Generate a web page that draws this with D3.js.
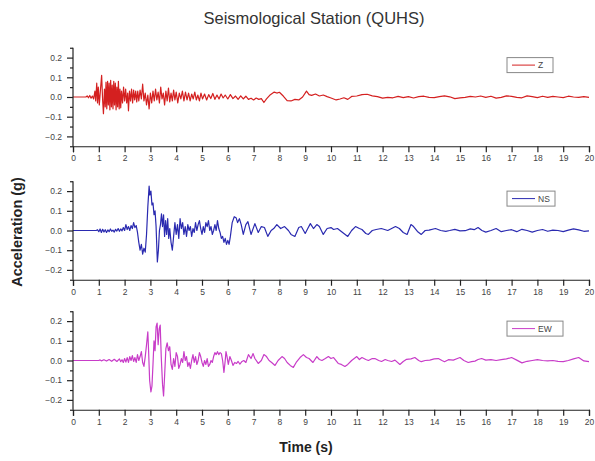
<!DOCTYPE html>
<html>
<head>
<meta charset="utf-8">
<script src="https://cdn.jsdelivr.net/npm/d3@7"></script>
<style>
  html, body { margin: 0; padding: 0; background: #fff; }
  svg { display: block; }
</style>
</head>
<body>
<script>
// ---------- DATA ----------
const chartTitle = "Seismological Station (QUHS)";
const xTicks = d3.range(0, 21);              // 0 .. 20 s
const yTicks = [-0.2, -0.1, 0.0, 0.1, 0.2];
const yMinorTicks = [-0.25, -0.15, -0.05, 0.05, 0.15, 0.25];
const componentNames = ["Z", "NS", "EW"];
const componentColors = ["#d42020", "#2a2ab0", "#c83cc8"];

// [time (s), acceleration (g)]
const zTrace = [
[0,0],[0.5,0],[0.55,0.006],[0.6,-0.004],[0.65,0.008],[0.7,-0.006],[0.75,0.005],[0.8,-0.01],
[0.85,0.03],[0.88,-0.02],[0.92,0.07],[0.95,-0.03],[0.98,0.05],[1.02,-0.04],[1.06,0.03],[1.11,0.11],
[1.15,-0.02],[1.18,-0.085],[1.22,0.04],[1.25,-0.05],[1.28,0.075],[1.31,-0.06],[1.34,0.08],[1.37,-0.04],
[1.40,0.07],[1.43,-0.065],[1.46,0.085],[1.49,-0.05],[1.52,0.06],[1.55,-0.06],[1.58,0.08],[1.61,-0.04],
[1.64,0.07],[1.67,-0.065],[1.70,0.05],[1.73,-0.05],[1.76,0.08],[1.79,-0.06],[1.82,0.04],[1.85,-0.055],
[1.88,0.03],[1.92,-0.03],[1.96,0.05],[2.0,-0.02],[2.04,0.04],[2.08,-0.03],[2.12,0.02],[2.15,-0.07],
[2.19,0.03],[2.23,-0.02],[2.27,0.04],[2.31,-0.03],[2.35,0.035],[2.39,-0.015],[2.43,0.03],[2.47,-0.025],
[2.51,0.03],[2.55,-0.02],[2.6,0.035],[2.65,-0.01],[2.7,0.065],[2.75,-0.02],[2.8,0.02],[2.85,-0.04],
[2.9,0.01],[2.95,-0.06],[3.0,0.02],[3.05,-0.03],[3.1,0.03],[3.15,-0.02],[3.2,0.04],[3.25,-0.015],
[3.3,0.025],[3.35,-0.03],[3.4,0.05],[3.45,-0.01],[3.5,0.02],[3.55,-0.04],[3.6,0.03],[3.65,-0.02],
[3.7,0.045],[3.75,-0.025],[3.8,0.02],[3.85,-0.02],[3.9,0.035],[3.95,-0.015],[4.0,0.025],[4.06,-0.03],
[4.12,0.02],[4.18,-0.01],[4.24,0.03],[4.3,-0.02],[4.36,0.025],[4.42,-0.015],[4.48,0.02],[4.54,-0.02],
[4.6,0.015],[4.66,-0.01],[4.72,0.025],[4.78,-0.015],[4.84,0.01],[4.9,-0.02],[4.96,0.02],[5.02,-0.01],
[5.1,0.015],[5.18,-0.015],[5.26,0.012],[5.34,-0.008],[5.42,0.018],[5.5,-0.012],[5.58,0.01],[5.66,-0.01],
[5.74,0.015],[5.82,-0.005],[5.9,0.01],[6.0,-0.01],[6.1,0.012],[6.2,-0.008],[6.3,0.005],[6.4,-0.012],
[6.5,0.006],[6.6,-0.01],[6.7,0.004],[6.8,-0.012],[6.9,-0.006],[7.0,-0.015],[7.1,-0.005],[7.2,-0.012],
[7.3,-0.008],[7.4,-0.028],[7.5,-0.01],[7.65,0.012],[7.8,0.025],[7.9,0.02],[8.0,0.024],[8.15,0.005],
[8.3,-0.018],[8.45,-0.02],[8.6,-0.012],[8.75,-0.015],[8.9,0.0],[9.05,0.03],[9.15,0.012],[9.25,0.008],
[9.4,0.015],[9.55,0.005],[9.7,0.01],[9.85,0.002],[10.0,-0.005],[10.2,-0.015],[10.35,-0.01],[10.5,-0.004],
[10.65,-0.012],[10.8,0.003],[11.0,0.005],[11.2,0.012],[11.4,0.014],[11.6,0.006],[11.8,0.002],[12.0,-0.006],
[12.2,-0.002],[12.4,-0.004],[12.6,0.003],[12.8,-0.003],[13.0,0.002],[13.2,-0.005],[13.4,0.002],[13.6,0.004],
[13.8,-0.002],[14.0,-0.003],[14.2,0.002],[14.4,0.006],[14.6,0.001],[14.8,-0.008],[15.0,-0.004],[15.2,-0.002],
[15.4,0.003],[15.6,0.0],[15.8,0.005],[16.0,-0.002],[16.2,0.004],[16.4,-0.006],[16.6,-0.002],[16.8,0.006],
[17.0,0.003],[17.2,-0.002],[17.4,-0.004],[17.6,0.006],[17.8,0.002],[18.0,-0.003],[18.2,0.004],[18.4,-0.002],
[18.6,0.003],[18.8,0.0],[19.0,-0.003],[19.2,0.004],[19.4,0.0],[19.6,-0.002],[19.8,0.002],[20.0,-0.002]
];

const nsTrace = [
[0,0],[0.9,0],[0.95,0.004],[1.0,-0.006],[1.05,0.008],[1.1,-0.01],[1.15,0.006],[1.2,-0.008],
[1.25,0.004],[1.3,-0.01],[1.35,0.003],[1.4,-0.006],[1.45,0.008],[1.5,-0.004],[1.55,0.002],[1.6,-0.008],
[1.65,0.006],[1.7,-0.003],[1.75,0.01],[1.8,-0.004],[1.85,0.008],[1.9,-0.002],[1.95,0.015],[2.0,0.0],
[2.05,0.03],[2.1,0.005],[2.15,0.02],[2.2,0.0],[2.25,0.025],[2.3,0.01],[2.35,0.04],[2.4,0.015],
[2.45,0.025],[2.5,-0.01],[2.55,-0.06],[2.6,-0.1],[2.65,-0.07],[2.7,-0.12],[2.75,-0.09],[2.8,-0.11],
[2.85,-0.02],[2.9,0.12],[2.95,0.225],[2.98,0.18],[3.02,0.2],[3.06,0.13],[3.1,0.14],[3.14,0.08],
[3.18,0.1],[3.22,0.02],[3.27,-0.16],[3.31,-0.1],[3.35,0.0],[3.39,0.03],[3.43,0.085],[3.47,0.02],
[3.51,0.08],[3.55,-0.03],[3.59,0.05],[3.63,-0.02],[3.67,0.06],[3.71,-0.04],[3.75,0.01],[3.8,-0.06],
[3.85,-0.1],[3.9,-0.03],[3.95,0.04],[4.0,-0.02],[4.05,0.03],[4.1,-0.04],[4.15,0.06],[4.2,0.01],
[4.25,0.04],[4.3,-0.02],[4.35,0.02],[4.4,-0.03],[4.45,0.03],[4.5,0.0],[4.55,0.02],[4.6,-0.03],
[4.65,0.01],[4.7,-0.01],[4.75,0.04],[4.8,0.0],[4.85,0.03],[4.9,0.05],[4.95,0.01],[5.0,-0.02],
[5.05,0.02],[5.1,-0.01],[5.15,0.04],[5.2,0.02],[5.25,0.05],[5.3,0.0],[5.35,0.02],[5.4,-0.02],
[5.45,0.0],[5.5,0.03],[5.55,0.0],[5.6,0.05],[5.65,0.01],[5.7,-0.01],[5.75,-0.04],[5.8,-0.03],
[5.85,-0.06],[5.9,-0.04],[5.95,-0.07],[6.0,-0.05],[6.05,-0.07],[6.1,-0.03],[6.17,0.04],[6.25,0.07],
[6.32,0.065],[6.38,0.04],[6.45,0.06],[6.52,0.03],[6.6,-0.02],[6.7,0.03],[6.78,0.045],[6.9,-0.02],
[7.05,0.035],[7.18,-0.01],[7.3,0.02],[7.42,0.015],[7.55,-0.03],[7.68,0.0],[7.78,0.01],[7.9,0.03],
[8.05,0.01],[8.2,0.02],[8.35,0.0],[8.45,-0.02],[8.6,-0.03],[8.75,0.015],[8.85,0.02],[9.0,-0.015],
[9.1,0.01],[9.2,0.035],[9.32,0.01],[9.45,0.03],[9.55,0.02],[9.7,-0.02],[9.85,0.01],[10.0,0.015],
[10.1,0.005],[10.25,0.01],[10.4,-0.005],[10.5,-0.015],[10.65,-0.03],[10.8,0.0],[10.95,0.02],[11.1,0.01],
[11.2,0.005],[11.35,-0.015],[11.45,-0.02],[11.6,0.0],[11.75,0.005],[11.95,0.01],[12.2,0.0],[12.35,0.01],
[12.5,0.02],[12.65,0.01],[12.8,-0.01],[12.95,-0.02],[13.1,0.03],[13.2,0.02],[13.35,-0.005],[13.5,-0.02],
[13.65,0.0],[13.8,0.002],[14.05,0.01],[14.25,0.0],[14.45,-0.004],[14.6,0.0],[14.8,0.006],[15.0,-0.002],
[15.2,-0.001],[15.4,0.008],[15.55,0.004],[15.7,0.015],[15.85,0.0],[16.0,-0.008],[16.2,0.0],[16.4,0.01],
[16.6,-0.006],[16.8,0.0],[17.0,0.004],[17.2,-0.006],[17.4,0.006],[17.6,0.0],[17.8,-0.008],[18.0,0.0],
[18.2,0.005],[18.4,-0.004],[18.6,0.002],[18.8,0.0],[19.0,-0.006],[19.2,0.002],[19.4,0.008],[19.6,0.003],
[19.8,-0.004],[20.0,-0.002]
];

const ewTrace = [
[0,0],[1.0,0],[1.05,0.003],[1.1,-0.002],[1.2,0.004],[1.3,-0.003],[1.4,0.005],[1.5,-0.004],
[1.6,0.006],[1.7,-0.005],[1.8,0.008],[1.85,-0.006],[1.9,0.004],[1.95,-0.01],[2.0,0.01],[2.05,-0.008],
[2.1,0.015],[2.15,-0.01],[2.2,0.02],[2.25,0.0],[2.3,0.025],[2.35,-0.005],[2.4,0.015],[2.45,-0.01],
[2.5,0.03],[2.55,0.0],[2.6,0.02],[2.65,0.045],[2.7,-0.01],[2.75,-0.03],[2.8,0.02],[2.85,0.08],
[2.9,0.145],[2.93,0.05],[2.97,-0.1],[3.02,-0.16],[3.06,-0.13],[3.1,-0.02],[3.14,0.1],[3.18,0.05],
[3.22,0.17],[3.26,0.19],[3.3,0.08],[3.34,0.16],[3.38,0.18],[3.42,0.02],[3.47,-0.12],[3.51,-0.18],
[3.55,-0.08],[3.6,0.06],[3.65,0.09],[3.7,0.05],[3.75,0.07],[3.8,-0.02],[3.85,-0.045],[3.9,0.01],
[3.95,-0.03],[4.0,0.04],[4.05,0.02],[4.1,-0.04],[4.15,-0.02],[4.2,0.01],[4.25,-0.01],[4.3,0.045],
[4.35,0.0],[4.4,0.02],[4.45,-0.03],[4.5,-0.01],[4.55,-0.04],[4.6,0.0],[4.65,0.03],[4.7,-0.01],
[4.75,0.02],[4.8,-0.02],[4.85,0.0],[4.9,0.04],[4.95,0.02],[5.0,-0.01],[5.05,-0.03],[5.1,0.0],
[5.15,-0.02],[5.2,0.01],[5.25,-0.03],[5.3,-0.02],[5.35,0.0],[5.4,-0.01],[5.45,0.02],[5.5,0.04],
[5.55,0.03],[5.6,0.045],[5.65,0.03],[5.7,0.04],[5.75,0.035],[5.8,0.0],[5.85,-0.06],[5.9,0.0],
[5.93,0.045],[5.97,0.02],[6.02,-0.02],[6.08,0.02],[6.14,0.0],[6.2,-0.025],[6.27,-0.01],[6.34,-0.015],
[6.4,-0.005],[6.47,-0.018],[6.55,-0.005],[6.62,0.0],[6.7,-0.01],[6.8,0.03],[6.9,0.01],[6.98,0.035],
[7.05,0.01],[7.18,-0.015],[7.3,0.0],[7.4,0.03],[7.5,0.02],[7.6,0.0],[7.7,-0.01],[7.83,-0.025],
[7.95,0.0],[8.1,0.02],[8.2,0.01],[8.3,-0.01],[8.42,-0.025],[8.54,-0.035],[8.65,-0.01],[8.8,0.015],
[8.93,0.03],[9.05,0.015],[9.15,0.01],[9.3,-0.01],[9.45,0.02],[9.55,0.005],[9.65,0.0],[9.78,0.01],
[9.9,0.02],[10.0,0.01],[10.1,0.015],[10.28,-0.015],[10.4,-0.02],[10.54,-0.03],[10.65,-0.02],[10.8,0.0],
[10.9,0.01],[11.0,0.02],[11.1,0.005],[11.2,0.015],[11.35,0.005],[11.45,0.0],[11.6,0.01],[11.7,0.01],
[11.85,0.0],[11.96,-0.005],[12.1,0.005],[12.2,0.0],[12.35,-0.005],[12.48,0.002],[12.67,-0.02],[12.8,-0.005],
[12.93,0.006],[13.1,0.008],[13.25,0.015],[13.4,0.0],[13.5,-0.006],[13.65,0.0],[13.83,0.002],[14.0,0.008],
[14.16,0.01],[14.3,0.0],[14.4,-0.006],[14.55,0.004],[14.74,0.002],[14.9,0.01],[15.0,0.015],[15.15,0.0],
[15.32,-0.01],[15.45,-0.006],[15.58,-0.003],[15.7,0.005],[15.84,0.01],[16.0,0.002],[16.2,0.004],[16.4,0.0],
[16.6,0.004],[16.8,0.008],[17.0,0.015],[17.2,0.002],[17.4,-0.012],[17.6,-0.004],[17.8,0.0],[18.0,0.004],
[18.2,0.0],[18.4,-0.002],[18.6,0.0],[18.8,-0.004],[19.0,-0.006],[19.2,0.0],[19.4,0.008],[19.6,0.015],
[19.8,-0.002],[20.0,-0.006]
];

const traces = [zTrace, nsTrace, ewTrace];

// ---------- LAYOUT ----------
const W = 595, H = 461;
const plotLeft = 73, plotRight = 589;
const panelTops = [47.75, 181.25, 311.25];
const panelH = 98.5;
const font = "Arial, 'Liberation Sans', Helvetica, sans-serif";

const svg = d3.select("body").append("svg")
  .attr("width", W).attr("height", H)
  .style("font-family", font);
svg.append("rect").attr("width", W).attr("height", H).attr("fill", "#fff");

const x = d3.scaleLinear().domain([0, 20]).range([plotLeft, plotRight]);

svg.append("text")
  .attr("x", 314).attr("y", 24)
  .attr("text-anchor", "middle")
  .attr("font-size", 16.5)
  .attr("fill", "#333")
  .text(chartTitle);

traces.forEach((trace, i) => {
  const top = panelTops[i];
  const y = d3.scaleLinear().domain([-0.25, 0.25]).range([top + panelH, top]);
  const g = svg.append("g");

  // trace
  const line = d3.line().x(d => x(d[0])).y(d => y(d[1]));
  g.append("path")
    .datum(trace)
    .attr("fill", "none")
    .attr("stroke", componentColors[i])
    .attr("stroke-width", 1.2)
    .attr("stroke-linejoin", "round")
    .attr("d", line);

  // y axis (major)
  const yAxis = d3.axisLeft(y).tickValues(yTicks).tickSize(6).tickPadding(5)
    .tickFormat(d3.format(".1f"));
  const ya = g.append("g").attr("transform", `translate(${plotLeft},0)`).call(yAxis);
  // y minor ticks
  const ym = g.append("g").attr("transform", `translate(${plotLeft},0)`)
    .call(d3.axisLeft(y).tickValues(yMinorTicks).tickSize(3).tickFormat(""));
  ym.select(".domain").remove();

  // x axis
  const xAxis = d3.axisBottom(x).tickValues(xTicks).tickSize(6).tickPadding(3)
    .tickFormat(d3.format("d"));
  const xa = g.append("g").attr("transform", `translate(0,${top + panelH})`).call(xAxis);

  [ya, ym, xa].forEach(a => {
    a.selectAll(".domain").attr("stroke", "#222").attr("stroke-width", 1.2);
    a.selectAll(".tick line").attr("stroke", "#222").attr("stroke-width", 1.2);
    a.selectAll(".tick text").attr("fill", "#444").attr("font-size", 8.5).style("font-family", font);
  });
  ya.select(".domain").attr("d", `M0,${top + panelH}V${top}`);

  // legend
  const name = componentNames[i];
  const boxW = name.length === 1 ? 46 : (name === "NS" ? 48 : 56);
  const lg = g.append("g").attr("transform", `translate(507,${y(0.2)})`);
  lg.append("rect").attr("width", boxW).attr("height", 15)
    .attr("fill", "#fff").attr("stroke", "#888").attr("stroke-width", 1);
  lg.append("line").attr("x1", 5).attr("x2", 28).attr("y1", 7.5).attr("y2", 7.5)
    .attr("stroke", componentColors[i]).attr("stroke-width", 1);
  lg.append("text").attr("x", 31).attr("y", 10.5)
    .attr("font-size", 8.5).attr("fill", "#444").text(name);
});

// axis titles
svg.append("text")
  .attr("transform", "translate(22,232) rotate(-90)")
  .attr("text-anchor", "middle")
  .attr("font-size", 14.5).attr("font-weight", "bold").attr("fill", "#222")
  .text("Acceleration (g)");

svg.append("text")
  .attr("x", 306).attr("y", 452)
  .attr("text-anchor", "middle")
  .attr("font-size", 14).attr("font-weight", "bold").attr("fill", "#222")
  .text("Time (s)");
</script>
</body>
</html>
